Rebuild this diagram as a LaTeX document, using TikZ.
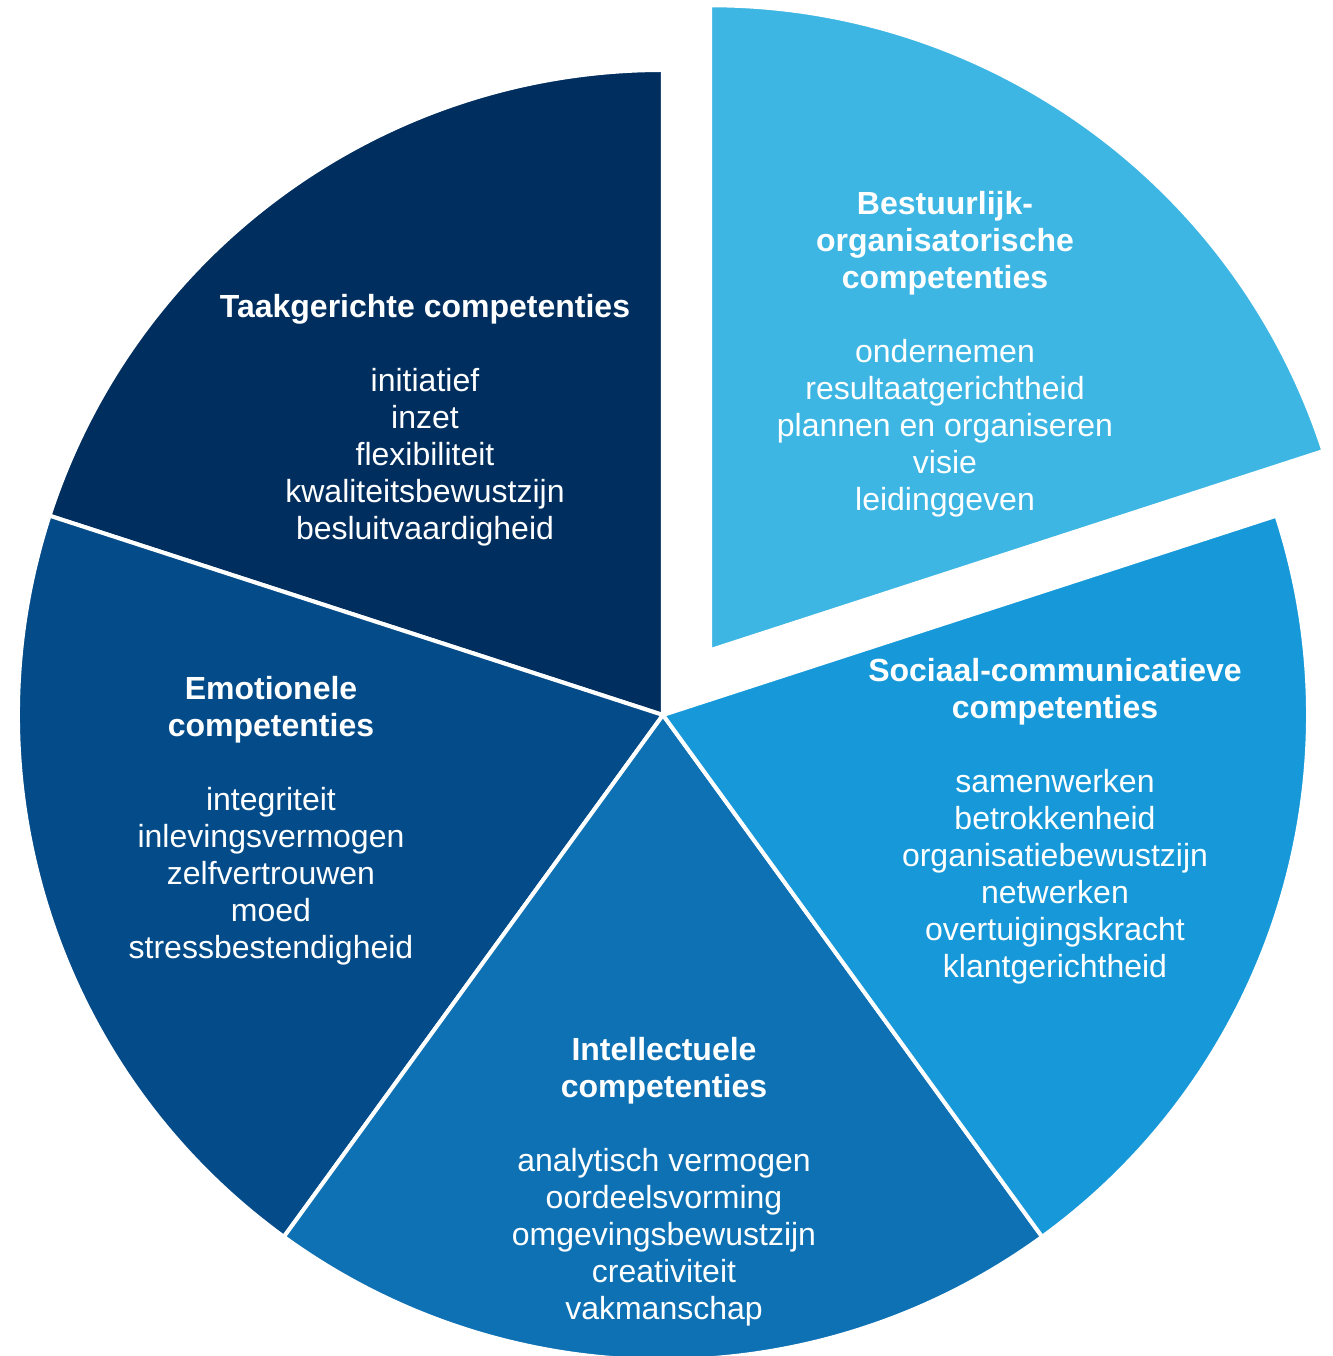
\documentclass[tikz,border=0pt]{standalone}
\usepackage{fontspec}
\setmainfont{Liberation Sans}
\definecolor{taakblauw}{HTML}{002F5F}
\definecolor{emoblauw}{HTML}{044C89}
\definecolor{intelblauw}{HTML}{0D71B4}
\definecolor{sociaalblauw}{HTML}{1799D9}
\definecolor{bestuurblauw}{HTML}{3DB6E3}
\tikzset{
  slice/.style={draw=white, line width=3pt},
  comptext/.style={text=white, align=center, font=\fontsize{24}{27.75}\selectfont, inner sep=0pt}
}

\begin{document}
\begin{tikzpicture}[x=0.75pt, y=0.75pt]
	\useasboundingbox (-663,-641) rectangle (669,715);
	\filldraw[slice, fill=taakblauw] (0,0) -- (90:645) arc[start angle=90, end angle=162, radius=645] -- cycle;
	\filldraw[slice, fill=emoblauw] (0,0) -- (162:645) arc[start angle=162, end angle=234, radius=645] -- cycle;
	\filldraw[slice, fill=intelblauw] (0,0) -- (234:645) arc[start angle=234, end angle=306, radius=645] -- cycle;
	\filldraw[slice, fill=sociaalblauw] (0,0) -- (306:645) arc[start angle=306, end angle=378, radius=645] -- cycle;
	% uitgelicht segment
	\begin{scope}[shift={(54:80)}]
		\filldraw[slice, fill=bestuurblauw] (0,0) -- (18:645) arc[start angle=18, end angle=90, radius=645] -- cycle;
	\end{scope}

	\node[comptext] (taak) at (-238,295) {\textbf{Taakgerichte competenties}\\[27.75pt]
		initiatief\\ inzet\\ flexibiliteit\\ kwaliteitsbewustzijn\\ besluitvaardigheid};
	\node[comptext] (bestuur) at (282,361) {\textbf{Bestuurlijk-}\\ \textbf{organisatorische}\\ \textbf{competenties}\\[27.75pt]
		ondernemen\\ resultaatgerichtheid\\ plannen en organiseren\\ visie\\ leidinggeven};
	\node[comptext] (sociaal) at (392,-106) {\textbf{Sociaal-communicatieve}\\ \textbf{competenties}\\[27.75pt]
		samenwerken\\ betrokkenheid\\ organisatiebewustzijn\\ netwerken\\ overtuigingskracht\\ klantgerichtheid};
	\node[comptext] (intel) at (1,-467) {\textbf{Intellectuele}\\ \textbf{competenties}\\[27.75pt]
		analytisch vermogen\\ oordeelsvorming\\ omgevingsbewustzijn\\ creativiteit\\ vakmanschap};
	\node[comptext] (emo) at (-392,-106) {\textbf{Emotionele}\\ \textbf{competenties}\\[27.75pt]
		integriteit\\ inlevingsvermogen\\ zelfvertrouwen\\ moed\\ stressbestendigheid};
\end{tikzpicture}
\end{document}
